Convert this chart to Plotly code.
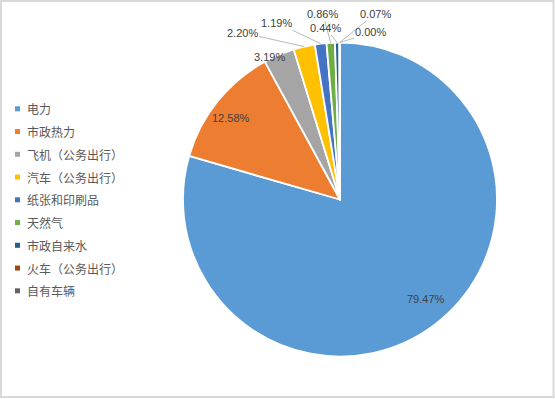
import math
import plotly.graph_objects as go

# ---- data ----
categories = ["电力", "市政热力", "飞机（公务出行）", "汽车（公务出行）", "纸张和印刷品",
              "天然气", "市政自来水", "火车（公务出行）", "自有车辆"]
shares = [79.47, 12.58, 3.19, 2.20, 1.19, 0.86, 0.44, 0.07, 0.00]
value_labels = ["79.47%", "12.58%", "3.19%", "2.20%", "1.19%", "0.86%", "0.44%", "0.07%", "0.00%"]

# ---- style ----
colors = ["#5B9BD5", "#ED7D31", "#A5A5A5", "#FFC000", "#4472C4",
          "#70AD47", "#255E91", "#9E480E", "#636363"]
W, H = 555, 399
CX, CY, R = 340.0, 199.5, 157.0   # pie centre / radius in px (top-left origin)
# label placement: (mode, radius fraction, dx, dy) ; mode 'in' = no leader, 'out' = leader line
label_style = [
    ("in", 0.85, 6, -7),
    ("in", 0.86, -4, 3),
    ("in", 1.0, -9, 2),
    ("out", 1.0, -62, -14),
    ("out", 1.0, -44, -21),
    ("out", 1.0, -8, -29),
    ("out", 1.0, -12, -15),
    ("out", 1.0, 36, -29),
    ("out", 1.0, 31, -10),
]

fig = go.Figure()
fig.add_trace(go.Pie(
    labels=categories, values=shares, sort=False, direction="clockwise", rotation=0,
    marker=dict(colors=colors, line=dict(color="white", width=1.8)),
    textinfo="none", showlegend=False, hoverinfo="label+percent",
    domain=dict(x=[(CX - R) / W, (CX + R) / W], y=[(H - CY - R) / H, (H - CY + R) / H]),
))

def px_to_paper(x, y):
    return x / W, (H - y) / H

annotations = []
total = sum(shares)
cum = 0.0
for i, v in enumerate(shares):
    mid = (cum + v / 2) / total * 2 * math.pi
    cum += v
    mode, f, dx, dy = label_style[i]
    px = CX + R * f * math.sin(mid)
    py = CY - R * f * math.cos(mid)
    xp, yp = px_to_paper(px, py)
    common = dict(xref="paper", yref="paper", x=xp, y=yp, text=value_labels[i],
                  font=dict(family="Liberation Sans, Arial", size=11, color="#404040"))
    if mode == "in":
        annotations.append(dict(**common, showarrow=False, xshift=dx, yshift=-dy,
                                xanchor="center", yanchor="middle"))
    else:
        annotations.append(dict(**common, showarrow=True, ax=dx, ay=dy, axref="pixel", ayref="pixel",
                                arrowhead=0, arrowwidth=0.8, arrowcolor="#A6A6A6",
                                standoff=0, startstandoff=0, borderpad=1))

# legend built from categories / colors
shapes = []
LX_SQ, LX_TXT, LY0, LDY, SQ = 17.5, 25, 108.8, 22.75, 5
for i, (name, c) in enumerate(zip(categories, colors)):
    yc = LY0 + i * LDY
    x0, y0 = px_to_paper(LX_SQ - SQ / 2, yc + SQ / 2)
    x1, y1 = px_to_paper(LX_SQ + SQ / 2, yc - SQ / 2)
    shapes.append(dict(type="rect", xref="paper", yref="paper", x0=x0, x1=x1, y0=y0, y1=y1,
                       fillcolor=c, line=dict(width=0)))
    tx, ty = px_to_paper(LX_TXT, yc)
    annotations.append(dict(xref="paper", yref="paper", x=tx, y=ty, text=name, showarrow=False,
                            xanchor="left", yanchor="middle",
                            font=dict(family="Noto Sans CJK SC", size=12, color="#595959")))

# chart border
bx0, by0 = px_to_paper(1, 397)
bx1, by1 = px_to_paper(553.5, 1)
shapes.append(dict(type="rect", xref="paper", yref="paper", x0=bx0, x1=bx1, y0=by0, y1=by1,
                   line=dict(color="#D9D9D9", width=2), fillcolor="rgba(0,0,0,0)"))

fig.update_layout(width=W, height=H, margin=dict(l=0, r=0, t=0, b=0),
                  paper_bgcolor="white", plot_bgcolor="white",
                  annotations=annotations, shapes=shapes, showlegend=False)
fig.write_html("out.html", config={"displayModeBar": False},
               post_script="document.body.style.margin='0';document.body.style.overflow='hidden';")
